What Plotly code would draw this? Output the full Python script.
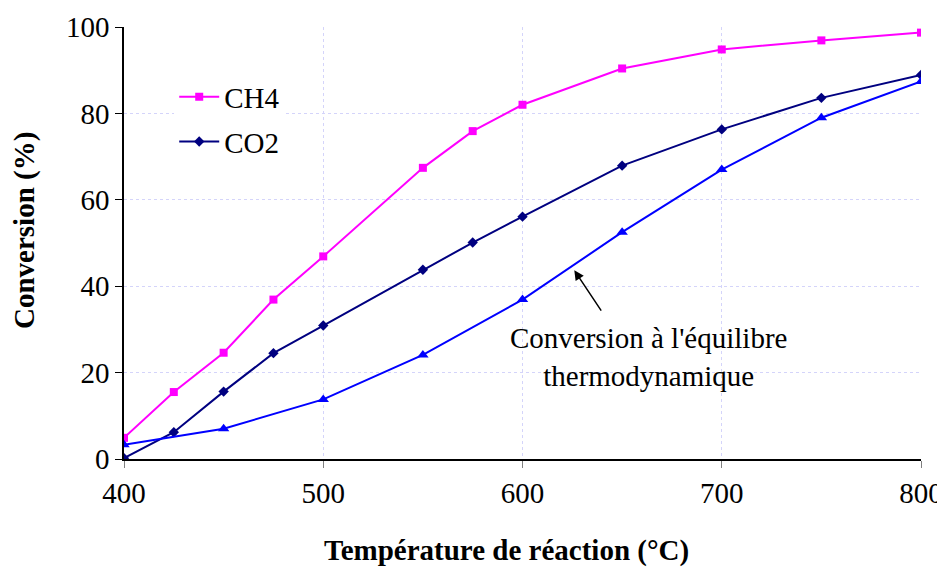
import plotly.graph_objects as go

# Données
temp_ch4 = [400, 425, 450, 475, 500, 550, 575, 600, 650, 700, 750, 800]
conv_ch4 = [4.9, 15.5, 24.6, 36.9, 46.9, 67.4, 75.9, 82.0, 90.4, 94.8, 96.9, 98.7]

temp_co2 = [400, 425, 450, 475, 500, 550, 575, 600, 650, 700, 750, 800]
conv_co2 = [0.2, 6.2, 15.6, 24.5, 30.9, 43.8, 50.1, 56.1, 67.9, 76.3, 83.6, 88.9]

temp_eq = [400, 450, 500, 550, 600, 650, 700, 750, 800]
conv_eq = [3.3, 7.0, 13.8, 24.1, 36.9, 52.5, 67.0, 79.0, 87.4]

FONT = "Liberation Serif, Times New Roman, serif"
GRID = "#d4d4fa"

fig = go.Figure()

fig.add_trace(go.Scatter(
    x=temp_ch4, y=conv_ch4, mode="lines+markers", name="CH4",
    legendgroup="a",
    line=dict(color="#ff00ff", width=2),
    marker=dict(symbol="square", size=8, color="#ff00ff"),
))
fig.add_trace(go.Scatter(
    x=temp_co2, y=conv_co2, mode="lines+markers", name="CO2",
    legendgroup="b",
    line=dict(color="#000080", width=2),
    marker=dict(symbol="diamond", size=8, color="#000080"),
))
fig.add_trace(go.Scatter(
    x=temp_eq, y=conv_eq, mode="lines+markers", name="Equilibre",
    showlegend=False,
    line=dict(color="#0000ff", width=2),
    marker=dict(symbol="triangle-up", size=10, color="#0000ff"),
))

# Flèche + texte
fig.add_annotation(
    x=626, y=43.7, ax=640, ay=34, xref="x", yref="y", axref="x", ayref="y",
    text="", showarrow=True, arrowhead=2, arrowsize=1.3, arrowwidth=1.5,
    arrowcolor="black",
)
fig.add_annotation(
    x=663, y=23.6, xref="x", yref="y",
    text="Conversion à l'équilibre<br>thermodynamique",
    showarrow=False, font=dict(family=FONT, size=29, color="black"),
    align="center",
)

# Titres des axes (placés comme sur l'original)
fig.add_annotation(
    x=(506 - 124) / 797 * 400 + 400, y=(459 - 550) / 432,
    xref="x", yref="paper", xanchor="center", yanchor="middle",
    text="<b>Température de réaction (°C)</b>", showarrow=False,
    font=dict(family=FONT, size=29, color="black"),
)
fig.add_annotation(
    x=(24 - 124) / 797, y=(459 - 230) / 432, xref="paper", yref="paper",
    xanchor="center", yanchor="middle",
    textangle=-90, text="<b>Conversion (%)</b>", showarrow=False,
    font=dict(family=FONT, size=29, color="black"),
)

fig.update_layout(
    width=945, height=567,
    margin=dict(l=116, r=32, t=19, b=116),
    plot_bgcolor="white", paper_bgcolor="white",
    font=dict(family=FONT, size=29, color="black"),
    showlegend=True,
    legend=dict(
        x=0.063, y=0.897, xanchor="left", yanchor="top",
        bgcolor="white", font=dict(family=FONT, size=29),
        tracegroupgap=4, itemwidth=40,
    ),
    xaxis=dict(
        range=[400, 800], tickvals=[400, 500, 600, 700, 800],
        showline=True, linecolor="black", linewidth=1.5,
        ticks="outside", ticklen=7, tickcolor="gray",
        showgrid=True, gridcolor=GRID, griddash="dot", gridwidth=1,
        zeroline=False, automargin=False,
        tickfont=dict(size=29),
    ),
    yaxis=dict(
        range=[0, 100], tickvals=[0, 20, 40, 60, 80, 100],
        showline=True, linecolor="black", linewidth=1.5,
        ticks="outside", ticklen=7, tickcolor="black",
        showgrid=True, gridcolor=GRID, griddash="dot", gridwidth=1,
        zeroline=False, automargin=False,
        tickfont=dict(size=29),
    ),
)

fig.write_html("out.html")
